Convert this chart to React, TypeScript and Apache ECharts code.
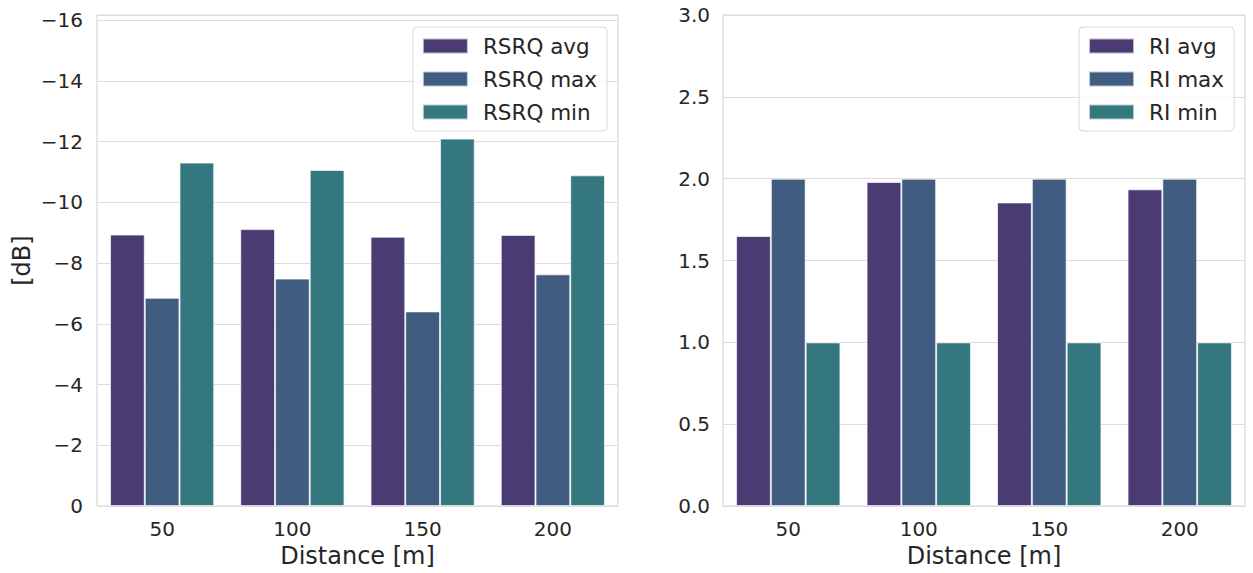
import React, { useEffect, useRef } from "react";
import * as echarts from "echarts";

const distances = ["50", "100", "150", "200"];
const rsrqAvg = [-8.94, -9.12, -8.87, -8.93];
const rsrqMax = [-6.86, -7.49, -6.41, -7.63];
const rsrqMin = [-11.31, -11.07, -12.1, -10.89];
const riAvg = [1.65, 1.98, 1.855, 1.935];
const riMax = [2.0, 2.0, 2.0, 2.0];
const riMin = [1.0, 1.0, 1.0, 1.0];

const colors = ["#4a3b73", "#405d81", "#34777f"];
const FONT = "DejaVu Sans";
const TEXT = "#262626";

export default function App() {
  const ref = useRef<HTMLDivElement>(null);
  useEffect(() => {
    if (!ref.current) return;
    const chart = echarts.init(ref.current, undefined, { renderer: "svg" });
    const barStyle = (c: string) => ({
      color: c,
      borderColor: "rgba(255,255,255,0.65)",
      borderWidth: 1,
    });
    const legendCommon = {
      orient: "vertical" as const,
      top: 27,
      icon: "rect",
      itemWidth: 45,
      itemHeight: 15,
      itemGap: 11,
      padding: [8, 10, 8, 9],
      backgroundColor: "rgba(255,255,255,0.8)",
      borderColor: "#d8d8d8",
      borderWidth: 1,
      borderRadius: 4,
      textStyle: {
        fontFamily: FONT,
        fontSize: 21.5,
        color: TEXT,
        lineHeight: 22,
        padding: [0, 0, 0, 10],
      },
    };
    const xCommon = {
      type: "category" as const,
      data: distances,
      name: "Distance [m]",
      nameLocation: "middle" as const,
      nameGap: 34,
      nameTextStyle: { fontFamily: FONT, fontSize: 24, color: TEXT },
      axisLine: { show: false },
      axisTick: { show: false },
      axisLabel: { fontFamily: FONT, fontSize: 20, color: TEXT, margin: 13 },
      splitLine: { show: false },
    };
    const yCommon = {
      type: "value" as const,
      axisLine: { show: false },
      axisTick: { show: false },
      splitLine: { show: true, lineStyle: { color: "#dcdcdc", width: 1 } },
    };
    const gridH = 497;
    chart.setOption({
      animation: false,
      textStyle: { fontFamily: FONT },
      grid: [
        { left: 97, top: 15, width: 521, height: gridH, show: true, borderColor: "#d0d0d0", borderWidth: 1, backgroundColor: "#fff" },
        { left: 723, top: 15, width: 522, height: gridH, show: true, borderColor: "#d0d0d0", borderWidth: 1, backgroundColor: "#fff" },
      ],
      legend: [
        { ...legendCommon, right: 646, data: ["RSRQ avg", "RSRQ max", "RSRQ min"] },
        { ...legendCommon, right: 19, data: ["RI avg", "RI max", "RI min"] },
      ],
      xAxis: [
        { ...xCommon, gridIndex: 0 },
        { ...xCommon, gridIndex: 1 },
      ],
      yAxis: [
        {
          ...yCommon,
          gridIndex: 0,
          inverse: true,
          min: -16.17,
          max: 0,
          minInterval: 2,
          maxInterval: 2,
          name: "[dB]",
          nameLocation: "middle",
          nameGap: 63,
          nameTextStyle: { fontFamily: FONT, fontSize: 24, color: TEXT },
          axisLabel: {
            fontFamily: FONT,
            fontSize: 20,
            color: TEXT,
            margin: 14,
            showMinLabel: false,
            formatter: (v: number) => String(v).replace("-", "\u2212"),
          },
        },
        {
          ...yCommon,
          gridIndex: 1,
          min: 0,
          max: 3,
          interval: 0.5,
          axisLabel: {
            fontFamily: FONT,
            fontSize: 20,
            color: TEXT,
            margin: 13,
            formatter: (v: number) => v.toFixed(1),
          },
        },
      ],
      series: [
        { name: "RSRQ avg", type: "bar", xAxisIndex: 0, yAxisIndex: 0, data: rsrqAvg, itemStyle: barStyle(colors[0]), barGap: "0%", barCategoryGap: "20%" },
        { name: "RSRQ max", type: "bar", xAxisIndex: 0, yAxisIndex: 0, data: rsrqMax, itemStyle: barStyle(colors[1]), barGap: "0%", barCategoryGap: "20%" },
        { name: "RSRQ min", type: "bar", xAxisIndex: 0, yAxisIndex: 0, data: rsrqMin, itemStyle: barStyle(colors[2]), barGap: "0%", barCategoryGap: "20%" },
        { name: "RI avg", type: "bar", xAxisIndex: 1, yAxisIndex: 1, data: riAvg, itemStyle: barStyle(colors[0]), barGap: "0%", barCategoryGap: "20%" },
        { name: "RI max", type: "bar", xAxisIndex: 1, yAxisIndex: 1, data: riMax, itemStyle: barStyle(colors[1]), barGap: "0%", barCategoryGap: "20%" },
        { name: "RI min", type: "bar", xAxisIndex: 1, yAxisIndex: 1, data: riMin, itemStyle: barStyle(colors[2]), barGap: "0%", barCategoryGap: "20%" },
      ],
    });
    return () => chart.dispose();
  }, []);
  return (
    <div
      ref={ref}
      style={{ position: "fixed", left: 0, top: 0, width: 1253, height: 573, background: "#fff" }}
    />
  );
}
